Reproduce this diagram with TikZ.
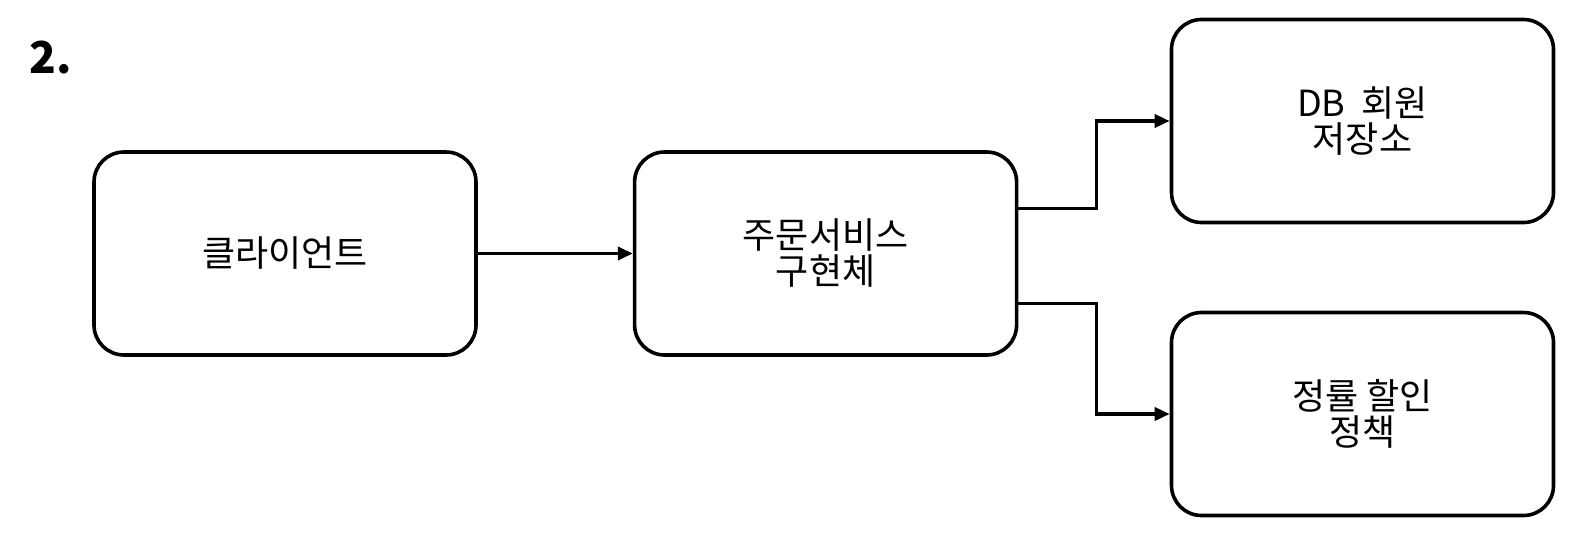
\documentclass[tikz,border=0pt]{standalone}
\usepackage{fontspec}
\setmainfont{Noto Sans CJK KR}
\usepackage{tikz}
\usetikzlibrary{arrows.meta,positioning,calc}

\begin{document}
\begin{tikzpicture}[x=1pt,y=-1pt,node distance=153pt,>={Triangle[length=15pt,width=13pt]}]
  \tikzstyle{block}=[draw,line width=3.6pt,rounded corners=30pt,align=center,minimum width=382pt,minimum height=203pt,font=\fontsize{36}{36}\selectfont]
  \tikzstyle{link}=[->,line width=3.6pt]
  \useasboundingbox (0,0) rectangle (1586,554);
  \node[font=\bfseries\fontsize{44}{48}\selectfont] (num) at (51,58) {2.};
  \node[block] (client) at (285,253.5) {클라이언트};
  \node[block,right=155pt of client] (order) {주문서비스\\구현체};
  \node[block] (db) at (1362.5,121) {DB\ \ 회원\\저장소};
  \node[block] (policy) at (1362.5,414) {정률 할인\\정책};
  \draw[link] (client) -- (order);
  \draw[link] ([yshift=45pt]order.east) -- ++(78pt,0) |- (db.west);
  \draw[link] ([yshift=-50pt]order.east) -- ++(78pt,0) |- (policy.west);
\end{tikzpicture}
\end{document}
